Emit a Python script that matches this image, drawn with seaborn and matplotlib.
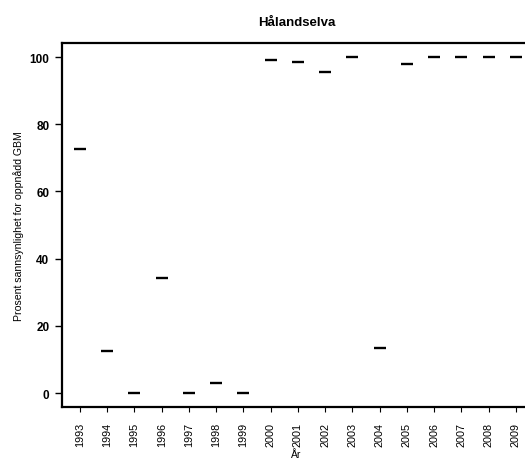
import matplotlib
matplotlib.use("Agg")
import matplotlib.pyplot as plt
import seaborn as sb
import pandas as pd

# data
years = ["1993", "1994", "1995", "1996", "1997", "1998", "1999", "2000", "2001",
         "2002", "2003", "2004", "2005", "2006", "2007", "2008", "2009"]
prob = [72.7, 12.4, 0.0, 34.1, 0.0, 2.9, 0.0, 99.2, 98.6,
        95.7, 100.0, 13.4, 97.9, 100.0, 100.0, 100.0, 100.0]

title = "Hålandselva"
xlab = "År"
ylab = "Prosent sannsynlighet for oppnådd GBM"


def main():
    df = pd.DataFrame({"year": years, "prob": prob})

    sb.set_style("white")
    plt.rcParams["font.family"] = ["Liberation Sans", "DejaVu Sans"]
    plt.rcParams["text.color"] = "black"
    plt.rcParams["axes.labelcolor"] = "black"

    fig = plt.figure(figsize=(5.25, 4.64), dpi=100)
    ax = fig.add_axes([62 / 525, 0.12, 469 / 525, 0.7845])

    sb.scatterplot(data=df, x="year", y="prob", marker="_", s=75,
                   color="black", edgecolor="black", linewidth=1.7, ax=ax,
                   legend=False)

    ax.set_xlim(-0.66, 16.56)
    ax.set_ylim(-4.26, 104.1)
    ax.set_yticks([0, 20, 40, 60, 80, 100])

    for side in ["left", "top", "bottom"]:
        ax.spines[side].set_visible(True)
        ax.spines[side].set_color("black")
        ax.spines[side].set_linewidth(1.6)
    ax.spines["right"].set_visible(False)

    ax.tick_params(axis="y", direction="out", length=5, width=1, pad=4,
                   labelsize=8.5, left=True, colors="black")
    ax.tick_params(axis="x", direction="out", length=3.6, width=0.8, pad=7,
                   labelsize=7.8, bottom=True, labelrotation=90, colors="black")
    for lab in ax.get_yticklabels():
        lab.set_fontweight("bold")

    ax.set_title(title, fontsize=9.5, fontweight="bold", pad=13, color="black")
    ax.set_xlabel(xlab, fontsize=7.5, labelpad=2)
    ax.set_ylabel(ylab, fontsize=7.6, labelpad=4)

    fig.savefig("out.png", dpi=100)
    plt.close(fig)


if __name__ == "__main__":
    main()
